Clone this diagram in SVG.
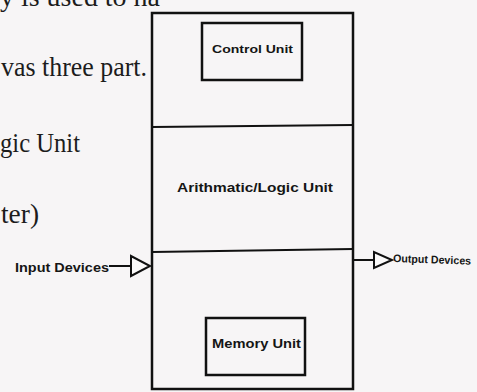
<svg xmlns="http://www.w3.org/2000/svg" width="477" height="392" viewBox="0 0 477 392">
<style>
.body{font-family:"Liberation Serif","Times New Roman",serif;font-size:27px;fill:#1c1c1c}
.lbl{font-family:"Liberation Sans",Arial,sans-serif;font-weight:bold;fill:#151515}
.box{fill:none;stroke:#111;stroke-width:2.5}
.div{fill:none;stroke:#111;stroke-width:2}
.tri{fill:#fbfafa;stroke:#111;stroke-width:2;stroke-linejoin:miter}
.ln{stroke:#111;stroke-width:2}
</style>
<rect x="0" y="0" width="477" height="392" fill="#f7f5f6"/>
<g id="page-text">
<text class="body" x="0" y="6" textLength="160" lengthAdjust="spacingAndGlyphs">y is used to ha</text>
<text class="body" x="1" y="76" textLength="146" lengthAdjust="spacingAndGlyphs">vas three part.</text>
<text class="body" x="0" y="152" textLength="80" lengthAdjust="spacingAndGlyphs">gic Unit</text>
<text class="body" x="1" y="223" textLength="38" lengthAdjust="spacingAndGlyphs">ter)</text>
</g>
<g id="cpu">
<rect class="box" x="152" y="13" width="201" height="376"/>
<line class="div" x1="152" y1="127" x2="353" y2="125"/>
<line class="div" x1="152" y1="252" x2="353" y2="249"/>
</g>
<g id="control-unit">
<rect class="box" x="202" y="23" width="100" height="57"/>
<text class="lbl" x="212" y="53" font-size="11.5" textLength="81" lengthAdjust="spacingAndGlyphs">Control Unit</text>
</g>
<g id="alu">
<text class="lbl" x="177" y="192" font-size="13" textLength="156" lengthAdjust="spacingAndGlyphs">Arithmatic/Logic Unit</text>
</g>
<g id="memory-unit">
<rect class="box" x="206" y="318" width="99" height="57"/>
<text class="lbl" x="212" y="348" font-size="12" textLength="89" lengthAdjust="spacingAndGlyphs">Memory Unit</text>
</g>
<g id="input-devices">
<text class="lbl" x="15" y="272" font-size="12.5" textLength="94" lengthAdjust="spacingAndGlyphs">Input Devices</text>
</g>
<g id="output-devices">
<text class="lbl" x="393" y="262" font-size="11" textLength="78" lengthAdjust="spacingAndGlyphs" transform="rotate(2 393 262)">Output Devices</text>
</g>
<g id="connectors">
<line class="ln" x1="109" y1="266" x2="131" y2="266"/>
<polygon class="tri" points="131,256 131,276 150,266"/>
<line class="ln" x1="354" y1="260" x2="374" y2="260"/>
<polygon class="tri" points="374,252 374,268 392,260"/>
</g>
</svg>
